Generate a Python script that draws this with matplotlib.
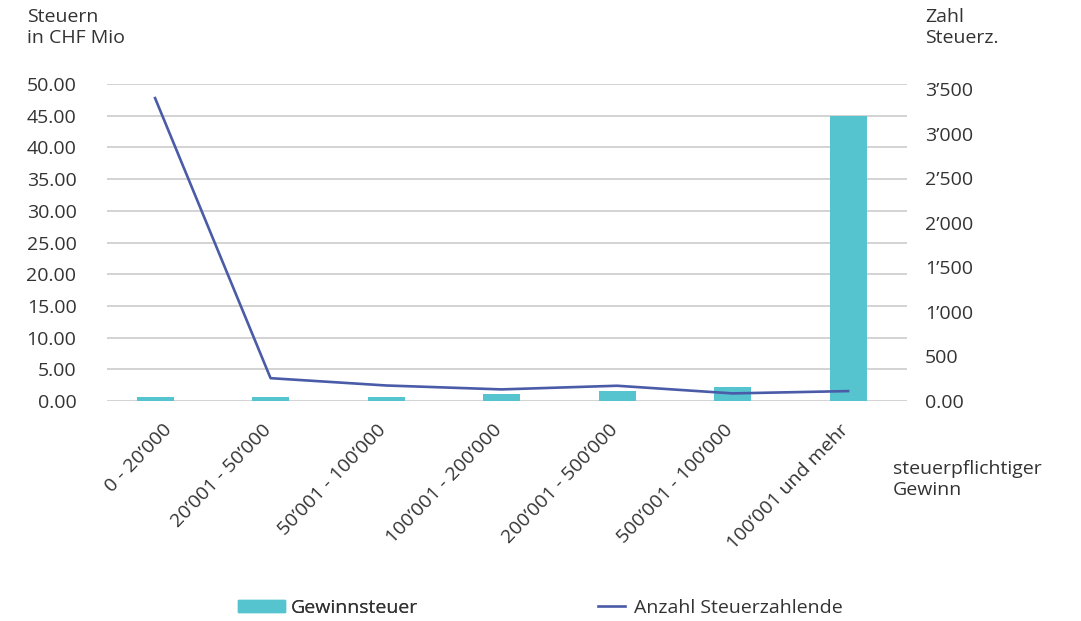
import matplotlib
matplotlib.use("Agg")
import matplotlib.pyplot as plt
import matplotlib.transforms as mtransforms
from matplotlib.ticker import FuncFormatter
from matplotlib.patches import Patch
from matplotlib.lines import Line2D

plt.rcParams['font.family'] = ['Open Sans', 'DejaVu Sans']
plt.rcParams['font.size'] = 14
plt.rcParams['text.color'] = '#333333'

# data
categories = ["0 - 20’000", "20’001 - 50’000", "50’001 - 100’000", "100’001 - 200’000",
              "200’001 - 500’000", "500’001 - 100’000", "100’001 und mehr"]
gewinnsteuer = [0.65, 0.65, 0.65, 1.05, 1.6, 2.25, 45.0]      # CHF Mio
steuerzahlende = [3400, 256, 174, 130, 171, 85, 111]          # Anzahl

bar_color = '#56C4CF'
line_color = '#4A5BA8'
grid_color = '#C8C8C8'

fig = plt.figure(figsize=(10.81, 6.21), dpi=100)
ax = fig.add_axes([0.099, 0.3543, 0.74, 0.5104])
ax2 = ax.twinx()

x = list(range(len(categories)))
ax.bar(x, gewinnsteuer, width=0.32, color=bar_color, zorder=2)
ax2.plot(x, steuerzahlende, color=line_color, lw=1.9, zorder=3)

ax.set_xlim(-0.416, 6.51)
ax.set_ylim(0, 50)
ax.set_yticks([i * 5 for i in range(11)])
ax.yaxis.set_major_formatter(FuncFormatter(lambda v, p: f"{v:.2f}"))
ax.grid(axis='y', color=grid_color, lw=1.1, zorder=0)
ax.set_axisbelow(True)

ax2.set_ylim(0, 3558)
ax2.set_yticks([i * 500 for i in range(8)])
def fmt_right(v, p):
    if v == 0:
        return "0.00"
    return f"{int(v):,}".replace(",", "’")
ax2.yaxis.set_major_formatter(FuncFormatter(fmt_right))

for a in (ax, ax2):
    for s in a.spines.values():
        s.set_visible(False)
    a.tick_params(length=0, colors='#333333', labelsize=14)

ax.tick_params(axis='y', pad=22)
ax2.tick_params(axis='y', pad=13)
for lbl in ax2.get_yticklabels():
    lbl.set_ha('left')

ax.set_xticks(x)
ax.set_xticklabels(categories, rotation=46, ha='right', va='top', rotation_mode='anchor')
# the first label sits a bit further right in the original
for i, lbl in enumerate(ax.get_xticklabels()):
    dx = 7 if i == 0 else -9
    off = mtransforms.ScaledTranslation(dx / 100, -15 / 100, fig.dpi_scale_trans)
    lbl.set_transform(lbl.get_transform() + off)

fig.text(27 / 1081, 1 - 8 / 621, "Steuern\nin CHF Mio", ha='left', va='top', fontsize=14)
fig.text(925 / 1081, 1 - 8 / 621, "Zahl\nSteuerz.", ha='left', va='top', fontsize=14)
fig.text(893 / 1081, 1 - 460 / 621, "steuerpflichtiger\nGewinn", ha='left', va='top', fontsize=14)

leg1 = fig.legend(handles=[Patch(color=bar_color, label='Gewinnsteuer')],
                  loc='center left', bbox_to_anchor=(238 / 1081, 1 - 608 / 621),
                  frameon=False, fontsize=14, borderpad=0, borderaxespad=0,
                  handlelength=2.4, handleheight=0.6, handletextpad=0.3)
leg2 = fig.legend(handles=[Line2D([], [], color=line_color, lw=1.9, label='Anzahl Steuerzahlende')],
                  loc='center left', bbox_to_anchor=(598 / 1081, 1 - 608 / 621),
                  frameon=False, fontsize=14, borderpad=0, borderaxespad=0,
                  handlelength=1.4, handletextpad=0.45)
fig.add_artist(leg1)

fig.savefig("out.png", dpi=100)
